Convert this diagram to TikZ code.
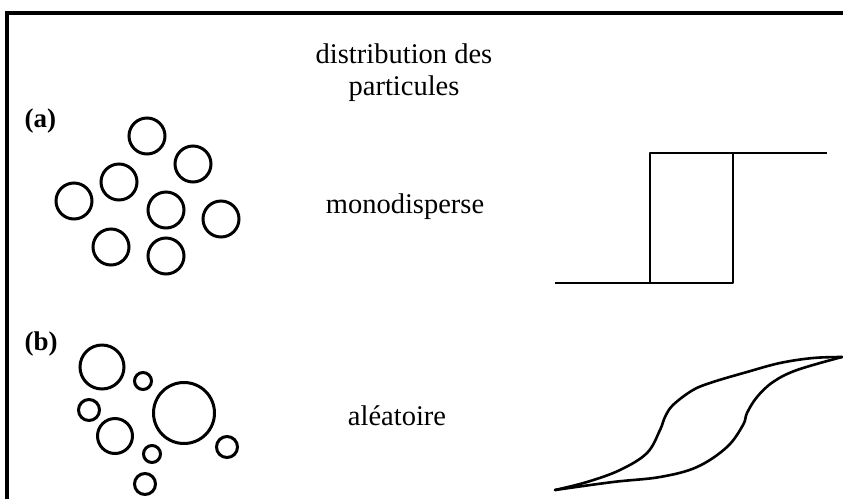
\documentclass[tikz,border=0pt]{standalone}
\usepackage{fontspec}
\setmainfont{Liberation Serif}
\usepackage{tikz}

\begin{document}
\begin{tikzpicture}[x=1pt, y=-1pt,
    particle/.style={circle, draw=black, line width=3pt, inner sep=0pt},
    caption/.style={anchor=base, font=\fontsize{28.5}{32}\selectfont},
    tag/.style={anchor=base west, font=\fontsize{27}{30}\selectfont\bfseries},
    curve/.style={line width=2.6pt, line join=round, line cap=round}
]
\useasboundingbox (0,0) rectangle (843,499);

% frame (open to the right and below)
\draw[line width=3.5pt] (7,499) -- (7,13) -- (843,13);

% texts
\node[caption] (title1) at (404,63) {distribution des};
\node[caption] (title2) at (404,95) {particules};
\node[caption] (mono) at (405,213) {monodisperse};
\node[caption] (alea) at (397,425) {aléatoire};
\node[tag] (taga) at (21,127) {(a)};
\node[tag] (tagb) at (21,350) {(b)};

% (a) equal particles
\node[particle, minimum size=36pt] (a1) at (147,136) {};
\node[particle, minimum size=36pt] (a2) at (193,164) {};
\node[particle, minimum size=36pt] (a3) at (119,182) {};
\node[particle, minimum size=36pt] (a4) at (74,201)  {};
\node[particle, minimum size=36pt] (a5) at (166,210) {};
\node[particle, minimum size=36pt] (a6) at (221,219) {};
\node[particle, minimum size=36pt] (a7) at (111,247) {};
\node[particle, minimum size=36pt] (a8) at (166,256) {};

% (b) random sizes
\node[particle, minimum size=44pt] (b1) at (102,367) {};
\node[particle, minimum size=17pt] (b2) at (143,381) {};
\node[particle, minimum size=21pt] (b3) at (89,410)  {};
\node[particle, minimum size=61pt] (b4) at (184,413) {};
\node[particle, minimum size=35pt] (b5) at (115,436) {};
\node[particle, minimum size=17pt] (b6) at (152,454) {};
\node[particle, minimum size=21pt] (b7) at (227,447) {};
\node[particle, minimum size=21pt] (b8) at (145,484) {};

% square loop
\coordinate (sq0) at (555,283);
\coordinate (sq1) at (650,283);
\coordinate (sq2) at (733,283);
\coordinate (sq3) at (650,153);
\coordinate (sq4) at (733,153);
\coordinate (sq5) at (827,153);
\draw[curve, line cap=butt] (sq0) -- (sq2) -- (sq4);
\draw[curve, line cap=butt] (sq1) -- (sq3) -- (sq5);

% smooth loop
\coordinate (hl) at (555,490);
\coordinate (hr) at (842,357);
\draw[curve] plot[smooth, tension=0.6] coordinates {(555,490) (587,482) (620,470) (647,453)
    (660,430) (665,417) (673,405) (693,390) (713,382) (747,372) (780,363) (813,358) (842,357)};
\draw[curve] plot[smooth, tension=0.6] coordinates {(555,490) (613,482) (660,477) (697,467)
    (727,447) (743,425) (747,413) (757,397) (773,382) (797,370) (842,357)};
\end{tikzpicture}
\end{document}
